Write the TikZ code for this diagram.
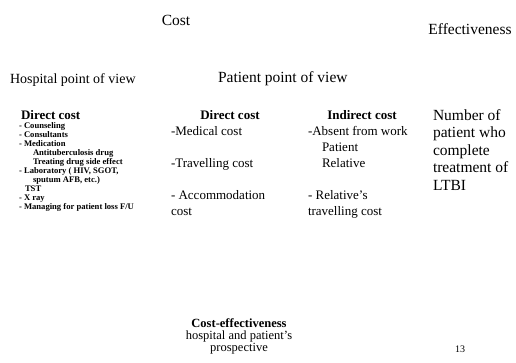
\documentclass[tikz,border=0pt]{standalone}
\usepackage{fontspec}
\setmainfont{Liberation Serif}

\begin{document}
\begin{tikzpicture}[x=1pt,y=-1pt,inner sep=0pt,outer sep=0pt,
		title/.style={font=\fontsize{15.5}{17}\selectfont},
		view/.style={font=\fontsize{14}{16}\selectfont},
		head/.style={font=\bfseries\fontsize{13}{15}\selectfont},
		items/.style={font=\bfseries\fontsize{8.6}{9}\selectfont,align=left},
		body/.style={font=\fontsize{13}{16}\selectfont,align=left},
		big/.style={font=\fontsize{15.5}{17.5}\selectfont,align=left}]

		\useasboundingbox (0,0) rectangle (516,362);

		% headings
		\node[title,anchor=base] (Cost) at (176,25) {Cost};
		\node[title,anchor=base] (Eff) at (470,34) {Effectiveness};
		\node[view,anchor=base west] (HospView) at (10,83.5) {Hospital point of view};
		\node[title,anchor=base west] (PatView) at (218,82) {Patient point of view};

		% hospital costs (base = last line)
		\node[head,anchor=base west] (HospDirect) at (21,119) {Direct cost};
		\node[items,anchor=base west] (HospItems) at (19,209) {- Counseling\\
			- Consultants\\
			- Medication\\
			\hspace*{14pt}Antituberculosis drug\\
			\hspace*{14pt}Treating drug side effect\\
			- Laboratory ( HIV, SGOT,\\
			\hspace*{14pt}sputum AFB, etc.)\\
			\hspace*{6pt}TST\\
			- X ray\\
			- Managing for patient loss F/U};

		% patient costs
		\node[head,anchor=base] (PatDirect) at (230,119) {Direct cost};
		\node[body,anchor=base west] (PatDirectItems) at (171,215) {-Medical cost\\[16pt]
			-Travelling cost\\[16pt]
			- Accommodation\\
			cost};
		\node[head,anchor=base] (PatIndirect) at (362,119) {Indirect cost};
		\node[body,anchor=base west] (PatIndirectItems) at (308,215) {-Absent from work\\
			\hspace*{14pt}Patient\\
			\hspace*{14pt}Relative\\[16pt]
			- Relative's\\
			travelling cost};

		% effectiveness
		\node[big,anchor=base west] (EffText) at (433,190) {Number of\\
			patient who\\
			complete\\
			treatment of\\
			LTBI};

		% bottom
		\node[font=\fontsize{12.5}{12}\selectfont,align=center,anchor=base] (CE) at (239,351)
			{\textbf{Cost-effectiveness}\\ hospital and patient's\\ prospective};
		\node[font=\fontsize{10}{12}\selectfont,anchor=base] (Page) at (460,352) {13};
\end{tikzpicture}
\end{document}
